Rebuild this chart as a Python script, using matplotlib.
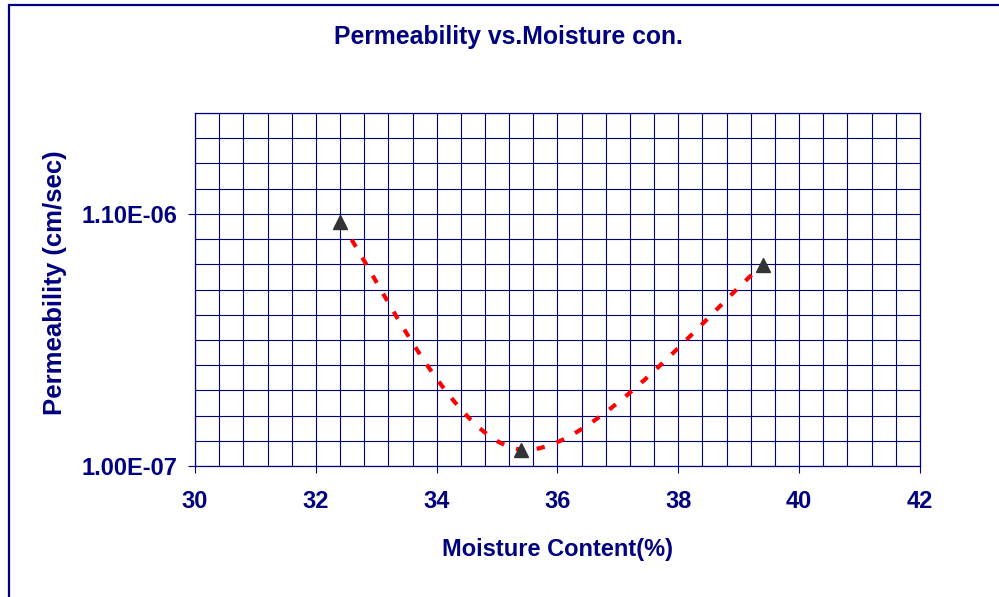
import numpy as np
import matplotlib
matplotlib.use('Agg')
import matplotlib.pyplot as plt
from matplotlib.path import Path
from matplotlib.patches import PathPatch, Rectangle
from matplotlib.ticker import FixedLocator, FuncFormatter

# data
moisture = [32.4, 35.4, 39.4]
perm = [1.066e-6, 1.65e-7, 8.96e-7]

x_major = [30, 32, 34, 36, 38, 40, 42]
y_major = [1.0e-7, 1.1e-6]

navy = '#000080'
plt.rcParams['font.family'] = ['Liberation Sans', 'DejaVu Sans']
plt.rcParams['font.weight'] = 'bold'

fig = plt.figure(figsize=(9.99, 5.97), dpi=100)
W, H = 999, 597
ax = fig.add_axes([195 / W, (H - 466) / H, 725 / W, 353 / H])

ax.set_xlim(30, 42)
ax.set_ylim(1.0e-7, 1.5e-6)

ax.xaxis.set_major_locator(FixedLocator(x_major))
ax.xaxis.set_minor_locator(FixedLocator(np.linspace(30, 42, 31)))
ax.yaxis.set_major_locator(FixedLocator(y_major))
ax.yaxis.set_minor_locator(FixedLocator(np.linspace(1.0e-7, 1.5e-6, 15)))
ax.yaxis.set_major_formatter(FuncFormatter(lambda v, p: '%.2E' % v))

ax.grid(True, which='both', color=navy, lw=0.8)
ax.set_axisbelow(True)
for s in ax.spines.values():
    s.set_color(navy)
    s.set_linewidth(0.9)

ax.tick_params(which='major', length=5, width=0.8, color=navy,
               labelcolor=navy, labelsize=17)
ax.tick_params(axis='x', which='major', pad=12)
ax.tick_params(axis='y', which='major', pad=8)
ax.tick_params(which='minor', length=0)
for lab in ax.get_xticklabels() + ax.get_yticklabels():
    lab.set_fontweight('bold')

# smoothed connecting line (bezier through the points, like excel's smoothing)
pts = np.column_stack([moisture, perm])
n = len(pts)
verts = [pts[0]]
codes = [Path.MOVETO]
for i in range(n - 1):
    p0 = pts[max(i - 1, 0)]
    p1 = pts[i]
    p2 = pts[i + 1]
    p3 = pts[min(i + 2, n - 1)]
    verts += [p1 + (p2 - p0) / 6, p2 - (p3 - p1) / 6, p2]
    codes += [Path.CURVE4] * 3
curve = PathPatch(Path(verts, codes), fill=False, edgecolor='red', lw=3,
                  linestyle=(0, (2.0, 3.0)), capstyle='butt', zorder=2)
ax.add_patch(curve)

ax.plot(moisture, perm, '^', color='#333333', ms=10, zorder=3, clip_on=False)

ax.set_xlabel('Moisture Content(%)', color=navy, fontsize=17,
              fontweight='bold', labelpad=18)
ax.set_ylabel('Permeability (cm/sec)', color=navy, fontsize=18.5,
              fontweight='bold')
ax.yaxis.set_label_coords(-0.176, 0.52)
fig.text(508 / W, 1 - 37 / H, 'Permeability vs.Moisture con.', color=navy,
         fontsize=17.8, fontweight='bold', ha='center', va='center')

# chart border
fig.add_artist(Rectangle((9 / W, -0.05), 1.2, 1 - 5 / H + 0.05,
                         transform=fig.transFigure, fill=False,
                         edgecolor=navy, lw=1.6))

fig.savefig('out.png', dpi=100)
